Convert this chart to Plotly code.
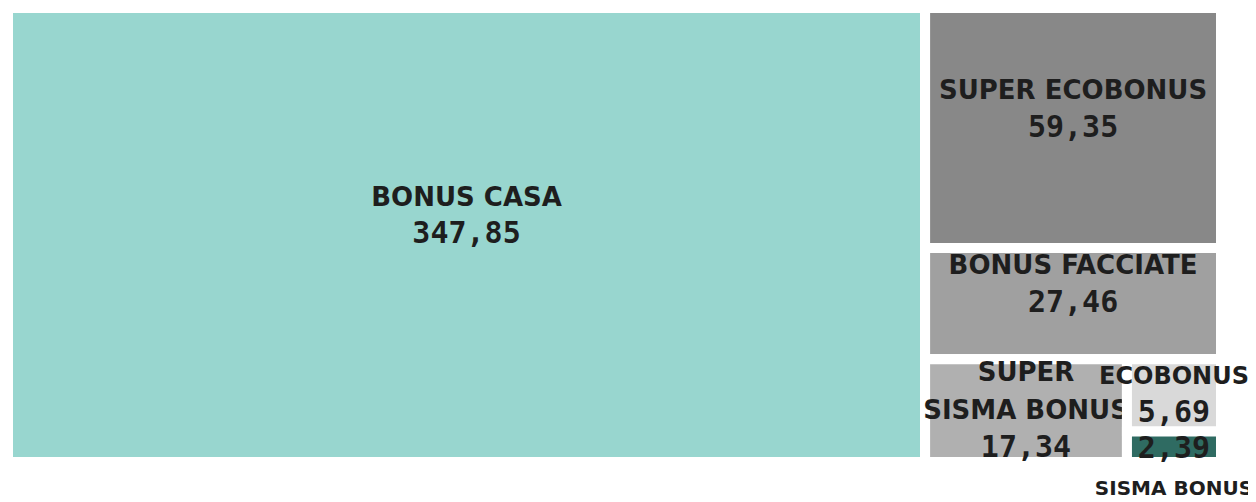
import plotly.graph_objects as go

# leaf data
labels = ["BONUS CASA", "SUPER ECOBONUS", "BONUS FACCIATE", "SUPER<br>SISMA BONUS", "ECOBONUS", "SISMA BONUS"]
values = [347.85, 59.35, 27.46, 17.34, 5.69, 2.39]
colors = ["#98d6cf", "#888888", "#a0a0a0", "#b0b0b0", "#d9d9d9", "#2f6b62"]
# grouping used only to arrange the tiles like the reference
group_of = ["root", "gA", "gA", "gB", "gC", "gC"]
groups = ["root", "gA", "gB", "gC"]
group_parent = ["", "root", "gA", "gB"]

NB = "&nbsp;"
def lab(size=26):
    return "<span style='font-size:%dpx'><b>%%{text}</b></span>" % size
VAL = "<span style='font-family:DejaVu Sans Mono;font-size:30px'><b>%{value:.2f}</b></span>"

leaf_tmpl = [
    lab() + "<br>" + VAL + "<br>" + NB,          # BONUS CASA
    lab() + "<br>" + VAL + "<br>" + NB,          # SUPER ECOBONUS
    lab() + "<br>" + VAL + "<br>" + NB,          # BONUS FACCIATE
    lab() + "<br>" + VAL,                        # SUPER SISMA BONUS
    lab(24) + "<br>" + VAL,                      # ECOBONUS
    NB + "<br>" + VAL + "<br>" + lab(20),        # SISMA BONUS (label under the thin tile)
]

ids, parents, vals, cols, texts, tmpl = [], [], [], [], [], []

def add_group(g):
    ids.append(g); parents.append(group_parent[groups.index(g)])
    vals.append(0); cols.append("white"); texts.append(""); tmpl.append("")

add_group("root")
for i, (lb, v, c, g) in enumerate(zip(labels, values, colors, group_of)):
    ids.append(lb); parents.append(g); vals.append(v); cols.append(c)
    texts.append(lb); tmpl.append(leaf_tmpl[i])
    nxt = [gg for gg, gp in zip(groups, group_parent) if gp == g and gg not in ids]
    later = [gg for gg in group_of[i + 1:] if gg == g]
    if nxt and not later:
        add_group(nxt[0])

fig = go.Figure(go.Treemap(
    ids=ids,
    labels=ids,
    parents=parents,
    values=vals,
    text=texts,
    branchvalues="remainder",
    sort=False,
    marker=dict(colors=cols, line=dict(color="white", width=10), pad=dict(t=0, l=0, r=0, b=0)),
    texttemplate=tmpl,
    textposition="middle center",
    textfont=dict(family="DejaVu Sans", size=29, color="#1e1e1e"),
    tiling=dict(packing="slice-dice", pad=0),
    pathbar=dict(visible=False),
    hoverinfo="text+value",
))
fig.update_layout(
    width=1256, height=502,
    margin=dict(l=0, r=43, t=0, b=48),
    separators=",.",
    paper_bgcolor="white",
    uniformtext=dict(minsize=29, mode="show"),
)
fig.write_html("out.html")
